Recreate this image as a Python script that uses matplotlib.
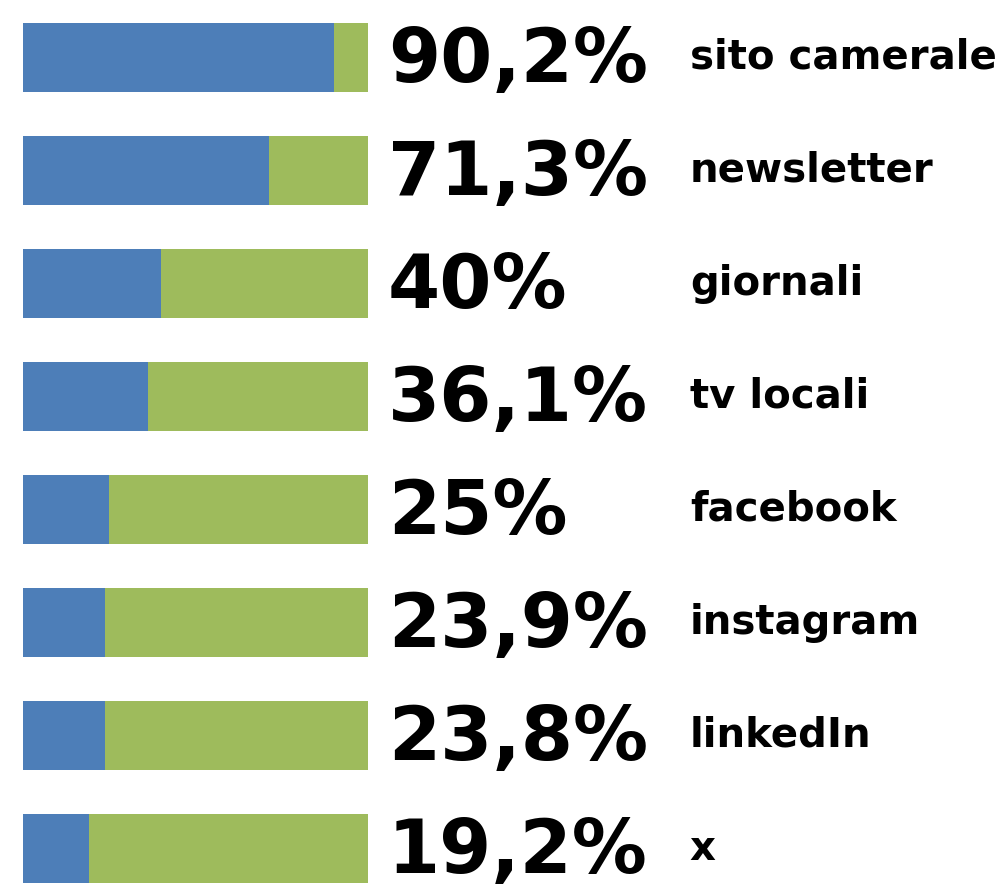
import matplotlib.pyplot as plt
import numpy as np

categories = ["sito camerale", "newsletter", "giornali", "tv locali",
              "facebook", "instagram", "linkedIn", "x"]
shares = [90.2, 71.3, 40.0, 36.1, 25.0, 23.9, 23.8, 19.2]
value_labels = ["90,2%", "71,3%", "40%", "36,1%", "25%", "23,9%", "23,8%", "19,2%"]

BLUE = "#4d7eb8"
GREEN = "#9ebb5c"

fig = plt.figure(figsize=(10.07, 8.84), dpi=100)
ax = fig.add_axes([0, 0, 1, 1])

y = np.arange(len(categories)) * 1.0
shares_arr = np.array(shares)
ax.barh(y, shares_arr, height=0.616, color=BLUE, linewidth=0)
ax.barh(y, 100 - shares_arr, left=shares_arr, height=0.616, color=GREEN, linewidth=0)

for yi, val, cat in zip(y, value_labels, categories):
    ax.text(105.8, yi + 0.22, val, fontsize=54, fontweight="bold",
            va="baseline", ha="left", color="black")
    ax.text(193.3, yi + 0.10, cat, fontsize=29, fontweight="bold",
            va="baseline", ha="left", color="black")

px = 3.45
ax.set_xlim(-23 / px, (1007 - 23) / px)
ax.set_ylim((884 - 57.5) / 113.0, -57.5 / 113.0)
ax.axis("off")

fig.savefig("out.png", dpi=100)
plt.close(fig)
